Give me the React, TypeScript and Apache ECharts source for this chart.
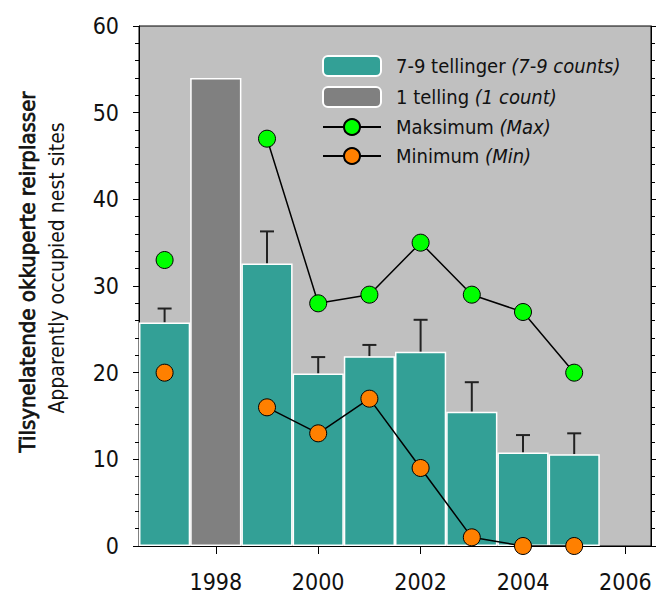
import React, { useEffect, useRef } from "react";
import * as echarts from "echarts";

const years = ["1997", "1998", "1999", "2000", "2001", "2002", "2003", "2004", "2005", "2006"];
const counts79 = [25.8, null, 32.6, 19.9, 21.9, 22.4, 15.5, 10.8, 10.6, null];
const counts1 = [null, 54, null, null, null, null, null, null, null, null];
const errTop = [27.4, null, 36.3, 21.8, 23.2, 26.1, 18.9, 12.8, 13.0, null];
const maxVals = [33, null, 47, 28, 29, 35, 29, 27, 20, null];
const minVals = [20, null, 16, 13, 17, 9, 1, 0, 0, null];

const FONT = "'Liberation Sans Narrow', 'DejaVu Sans Condensed', sans-serif";

const legendNames: Record<string, [string, string]> = {
  "7-9 tellinger": ["7-9 tellinger", "(7-9 counts)"],
  "1 telling": ["1 telling", "(1 count)"],
  Maksimum: ["Maksimum", "(Max)"],
  Minimum: ["Minimum", "(Min)"],
};

export default function App() {
  const ref = useRef<HTMLDivElement>(null);
  useEffect(() => {
    const chart = echarts.init(ref.current!, null, { renderer: "svg" });
    const errData = years.map((_, i) =>
      counts79[i] != null && errTop[i] != null ? [i, counts79[i], errTop[i]] : null
    ).filter((d) => d !== null);
    chart.setOption({
      animation: false,
      backgroundColor: "#ffffff",
      textStyle: { fontFamily: FONT },
      grid: {
        left: 139,
        right: 10,
        top: 26,
        bottom: 51,
        show: true,
        backgroundColor: "#c0c0c0",
        borderColor: "#000",
        borderWidth: 1,
      },
      legend: {
        orient: "vertical",
        left: 322,
        top: 55,
        padding: 0,
        itemWidth: 58,
        itemHeight: 20,
        itemGap: 9,
        data: ["7-9 tellinger", "1 telling", "Maksimum", "Minimum"],
        formatter: (n: string) => `${legendNames[n][0]} {i|${legendNames[n][1]}}`,
        textStyle: {
          fontFamily: FONT,
          fontSize: 20,
          color: "#111",
          padding: [0, 0, 0, 10],
          rich: { i: { fontStyle: "italic", fontSize: 20, fontFamily: FONT, color: "#111" } },
        },
      },
      xAxis: {
        type: "category",
        data: years,
        boundaryGap: true,
        axisLine: { show: true, lineStyle: { color: "#000", width: 1 } },
        axisTick: {
          show: true,
          alignWithLabel: true,
          length: 8,
          interval: (i: number) => i % 2 === 1,
          lineStyle: { color: "#000", width: 1 },
        },
        axisLabel: {
          interval: (i: number) => i % 2 === 1,
          fontSize: 23,
          color: "#111",
          margin: 24,
          fontFamily: FONT,
        },
        splitLine: { show: false },
      },
      yAxis: [
        {
          type: "value",
          min: 0,
          max: 60,
          interval: 10,
          axisLine: { show: true, lineStyle: { color: "#000", width: 1 } },
          axisTick: { show: true, length: 6, lineStyle: { color: "#000" } },
          minorTick: { show: true, splitNumber: 5, length: 4, lineStyle: { color: "#000" } },
          axisLabel: { fontSize: 23, color: "#111", margin: 20, fontFamily: FONT },
          splitLine: { show: false },
        },
        {
          type: "value",
          min: 0,
          max: 60,
          interval: 10,
          position: "right",
          axisLine: { show: true, lineStyle: { color: "#000", width: 1 } },
          axisTick: { show: true, length: 5, lineStyle: { color: "#000" } },
          minorTick: { show: true, splitNumber: 5, length: 4, lineStyle: { color: "#000" } },
          axisLabel: { show: false },
          splitLine: { show: false },
        },
      ],
      series: [
        {
          name: "7-9 tellinger",
          type: "bar",
          stack: "bars",
          data: counts79.map((v) => (v == null ? "-" : v)),
          barCategoryGap: "0%",
          itemStyle: { color: "#33a096", borderColor: "#ffffff", borderWidth: 1.5 },
          z: 2,
        },
        {
          name: "1 telling",
          type: "bar",
          stack: "bars",
          data: counts1.map((v) => (v == null ? "-" : v)),
          barCategoryGap: "0%",
          itemStyle: { color: "#808080", borderColor: "#ffffff", borderWidth: 1.5 },
          z: 2,
        },
        {
          name: "errors",
          type: "custom",
          data: errData,
          z: 1,
          renderItem: (params: any, api: any) => {
            const x = api.value(0);
            const base = api.coord([x, api.value(1)]);
            const top = api.coord([x, api.value(2)]);
            const half = 7;
            return {
              type: "group",
              children: [
                {
                  type: "line",
                  shape: { x1: base[0], y1: base[1], x2: top[0], y2: top[1] },
                  style: { stroke: "#222", lineWidth: 2 },
                },
                {
                  type: "line",
                  shape: { x1: top[0] - half, y1: top[1], x2: top[0] + half, y2: top[1] },
                  style: { stroke: "#222", lineWidth: 2 },
                },
              ],
            };
          },
        },
        {
          name: "Maksimum",
          type: "line",
          data: maxVals.map((v) => (v == null ? "-" : v)),
          connectNulls: false,
          symbol: "circle",
          symbolSize: 17,
          lineStyle: { color: "#000", width: 1.5 },
          itemStyle: { color: "#00ff00", borderColor: "#000", borderWidth: 1 },
          z: 5,
        },
        {
          name: "Minimum",
          type: "line",
          data: minVals.map((v) => (v == null ? "-" : v)),
          connectNulls: false,
          symbol: "circle",
          symbolSize: 17,
          lineStyle: { color: "#000", width: 1.5 },
          itemStyle: { color: "#ff8000", borderColor: "#000", borderWidth: 1 },
          z: 5,
        },
      ],
      graphic: [
        {
          type: "text",
          x: 27,
          y: 272,
          rotation: Math.PI / 2,
          style: {
            text: "Tilsynelatende okkuperte reirplasser",
            fontFamily: FONT,
            fontSize: 22,
            fill: "#111",
            stroke: "#111",
            lineWidth: 0.7,
            align: "center",
            verticalAlign: "middle",
          },
        },
        {
          type: "text",
          x: 57,
          y: 268,
          rotation: Math.PI / 2,
          style: {
            text: "Apparently occupied nest sites",
            fontFamily: FONT,
            fontSize: 21,
            fill: "#111",
            align: "center",
            verticalAlign: "middle",
          },
        },
      ],
    });
    return () => chart.dispose();
  }, []);
  return <div ref={ref} style={{ width: 661, height: 597, position: "absolute", left: 0, top: 0 }} />;
}
